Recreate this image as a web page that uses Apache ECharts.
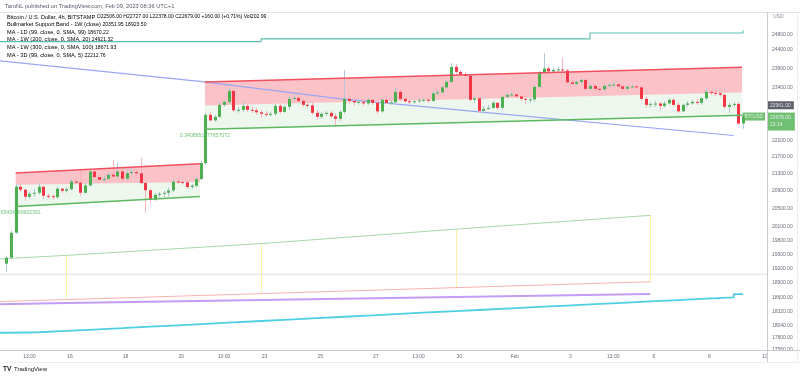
<!DOCTYPE html>
<html><head><meta charset="utf-8">
<script src="https://cdn.jsdelivr.net/npm/echarts@6/dist/echarts.min.js"></script>
<style>html,body{margin:0;padding:0;background:#fff}#c{width:800px;height:378px}</style>
</head><body><div id="c"></div>
<script>
// ---------- DATA ----------
// time unit: hours after 2023-01-16 00:00 (UTC+1); 4h candles
const candleStartHour = -55;   // 2023-01-13 17:00
const candleStepHours = 4;
const opens  = [19303,19430,19968,21000,20931,20771,20840,20862,21000,20794,20783,20760,20954,20908,20943,21121,21095,20862,21030,21354,21224,21161,21184,21277,21237,21354,21184,21316,21340,21312,21086,20920,20703,20817,20840,20862,20915,21121,21107,21100,20993,21023,21177,21552,
22722,22585,22672,22971,23047,23326,22834,22846,22946,22846,22834,22784,22747,22722,22747,22946,22796,22921,23123,23148,23072,22971,22958,22771,22672,22747,22771,22685,22623,22796,23123,23072,23035,23047,23009,23098,23022,22808,23098,23022,23035,23301,23123,23060,23035,23060,23085,23098,23072,23263,23288,23416,23557,23947,23816,23751,23712,23098,23136,22821,22871,22896,23022,22896,23174,23224,23237,23186,23123,23098,23110,23429,23790,23907,23829,23868,23881,23855,23545,23506,23557,23609,23378,23454,23378,23365,23454,23480,23493,23442,23378,23429,23442,23416,23123,22971,22996,23005,22946,23009,23098,22971,22808,22971,23009,23047,23022,23136,23301,23275,23263,23224,22921,22971,22996,22506];
const highs  = [19473,20011,21070,21070,20954,20885,20954,21092,21023,20840,20817,21000,20977,21000,21184,21207,21371,21092,21417,21394,21300,21254,21347,21630,21560,21417,21394,21417,21394,21677,21100,20954,20862,20885,20908,20977,21184,21184,21161,21161,21070,21230,21607,22771,
22796,22722,23022,23098,23403,23378,22921,23047,22996,22946,22896,22846,22821,22796,22996,22996,22971,23199,23250,23224,23123,23047,23022,22846,22796,22821,22821,22747,22846,23868,23275,23148,23123,23098,23148,23148,23072,23123,23174,23098,23378,23352,23174,23123,23098,23148,23148,23148,23326,23352,23480,23609,24052,24025,23868,23816,23764,23199,23174,22946,22971,23072,23047,23224,23275,23301,23275,23224,23174,23148,23480,23842,24316,23973,23920,23947,24184,23894,23609,23609,23661,23661,23506,23506,23454,23506,23532,23557,23532,23480,23480,23506,23480,23454,23174,23047,23072,23047,23072,23148,23148,23022,22996,23072,23098,23123,23174,23378,23352,23326,23301,23250,23022,23047,23047,22727];
const lows   = [19135,19388,19946,20885,20680,20726,20771,20817,20726,20726,20703,20726,20862,20862,20908,21070,20794,20840,21000,21184,21092,21114,21161,21207,21207,21114,21138,21254,21254,21046,20410,20635,20680,20749,20771,20771,20885,21070,21046,20954,20954,20977,21161,21512,
22548,22548,22647,22921,22996,22796,22771,22796,22796,22771,22722,22647,22672,22672,22697,22747,22771,22846,23072,23022,22921,22896,22722,22598,22623,22697,22647,22425,22573,22747,22996,22946,22971,22946,22971,22971,22747,22771,22996,22971,22996,23072,23022,22996,22996,23022,23047,23022,23047,23224,23250,23378,23532,23764,23712,23661,23072,23022,22771,22747,22846,22871,22846,22846,23148,23174,23148,23072,22996,23022,23047,23403,23738,23790,23790,23816,23816,23506,23454,23454,23506,23326,23326,23301,23301,23326,23403,23429,23403,23301,23326,23378,23378,23072,22896,22896,22921,22846,22896,22971,22921,22771,22796,22921,22971,22971,22971,23098,23224,23199,23174,22871,22771,22921,22474,22378];
const closes = [19430,19968,21000,20931,20771,20840,20862,21000,20794,20783,20760,20954,20908,20943,21121,21095,20862,21030,21354,21224,21161,21184,21277,21237,21354,21184,21316,21340,21312,21086,20920,20703,20817,20840,20862,20915,21121,21107,21100,20993,21023,21177,21552,22722,
22585,22672,22971,23047,23326,22834,22846,22946,22846,22834,22784,22747,22722,22747,22946,22796,22921,23123,23148,23072,22971,22958,22771,22672,22747,22771,22685,22623,22796,23123,23072,23035,23047,23009,23098,23022,22808,23098,23022,23035,23301,23123,23060,23035,23060,23085,23098,23072,23263,23288,23416,23557,23947,23816,23751,23712,23098,23136,22821,22871,22896,23022,22896,23174,23224,23237,23186,23123,23098,23110,23429,23790,23907,23829,23868,23881,23855,23545,23506,23557,23609,23378,23454,23378,23365,23454,23480,23493,23442,23378,23429,23442,23416,23123,22971,22996,23005,22946,23009,23098,22971,22808,22971,23009,23047,23022,23136,23301,23275,23263,23224,22921,22971,22996,22506,22679];

// x axis ticks
const xTickHours  = [-35, 0, 48, 96, 133, 168, 216, 264, 301, 336, 384, 432, 469, 504, 552, 600];
const xTickLabels = ['13:00','16','18','20','13:00','23','25','27','13:00','30','Feb','3','13:00','6','8','10'];
// y axis ticks
const yTickValues = [24800,24400,23900,23400,22100,21700,21300,20900,20500,20100,19800,19500,19200,18900,18600,18320,18040,17800,17560];

// weekly indicator points (last 4h bar of each week)
const weeklyHours = [-171, -3, 165, 333, 501];
const band20wSma  = [19257, 19479, 19731, 20046, 20352];
const band21wEma  = [18446, 18557, 18679, 18802, 18923.5];
const ma300w      = [18416, 18486, 18547, 18608, 18672];

// 200W MA (stepped)
const ma200wHours  = [-61, 165, 449, 573, 581];
const ma200wValues = [24619, 24692, 24854, 24854, 24921];

// daily MA (stepped), points at the last 4h bar of each day
const ma1dHours  = [-75,-51,-27,-3,21,45,69,93,117,141,165,189,213,237,261,285,309,333,357,381,405,429,453,477,501,525,549,573,581];
const ma1dValues = [17895,17905,17930,17958,17985,18015,18042,18070,18098,18127,18155,18184,18212,18240,18270,18298,18326,18352,18380,18408,18436,18464,18492,18520,18548,18575,18602,18670,18670];

// 3D MA
const ma3dHours  = [-61, 112, 236, 319, 351, 573];
const ma3dValues = [24105, 23570, 23116, 22888, 22804, 22213];

// horizontal line
const hLinePrice = 19080;

// regression trend drawings [startHour, endHour], upper / base / lower price at start & end
const reg1 = {t: [-46.9, 112.2], upper: [21317, 21535], base: [21046, 21108], lower: [20552, 20778], r: '0.5455454669602391'};
const reg2 = {t: [116.5, 580.2], upper: [23557, 23940], base: [22954, 23283], lower: [22364, 22710], r: '0.3408651177657072'};

// price scale labels
const lastPrice = 22679.00;
const markPrice = 22961.00;
const countdown = '23:14';

// ---------- CHART ----------
const X_MIN = -60.4, X_MAX = 601.75, Y_MIN = 17560, Y_MAX = 25432;
const FONT = 'Liberation Sans, Arial, sans-serif';
const UP = '#4caf50', DN = '#f23645', WICK_UP = '#b4c7d6', WICK_DN = '#f7b3b9';

const candleData = opens.map((o, i) => [candleStartHour + candleStepHours * i, o, closes[i], lows[i], highs[i]]);

function renderCandle(params, api) {
  const t = api.value(0), o = api.value(1), c = api.value(2), l = api.value(3), h = api.value(4);
  const pO = api.coord([t, o]), pC = api.coord([t, c]), pH = api.coord([t, h]), pL = api.coord([t, l]);
  const up = c >= o;
  const cx = Math.round(pO[0]);
  const top = Math.min(pO[1], pC[1]), bot = Math.max(pO[1], pC[1]);
  return {type: 'group', children: [
    {type: 'line', shape: {x1: cx + 0.5, y1: pH[1], x2: cx + 0.5, y2: pL[1]}, style: {stroke: up ? WICK_UP : WICK_DN, lineWidth: 1}},
    {type: 'rect', shape: {x: cx - 1, y: top, width: 3, height: Math.max(1, bot - top)}, style: {fill: up ? UP : DN}}
  ]};
}

function regFill(reg) {
  return function (params, api) {
    const ut0 = api.coord([reg.t[0], reg.upper[0]]), ut1 = api.coord([reg.t[1], reg.upper[1]]);
    const b0 = api.coord([reg.t[0], reg.base[0]]), b1 = api.coord([reg.t[1], reg.base[1]]);
    const l0 = api.coord([reg.t[0], reg.lower[0]]), l1 = api.coord([reg.t[1], reg.lower[1]]);
    return {type: 'group', children: [
      {type: 'polygon', shape: {points: [ut0, ut1, b1, b0]}, style: {fill: 'rgba(242,54,69,0.30)'}},
      {type: 'polygon', shape: {points: [b0, b1, l1, l0]}, style: {fill: 'rgba(76,175,80,0.10)'}}
    ]};
  };
}

function lineSeries(data, color, width, z, extra) {
  return Object.assign({type: 'line', data: data, symbol: 'none', silent: true, z: z,
    lineStyle: {color: color, width: width}, animation: false}, extra || {});
}
const zip = (a, b) => a.map((v, i) => [v, b[i]]);

const series = [];
series.push(lineSeries([[X_MIN, hLinePrice], [X_MAX, hLinePrice]], '#ececec', 2, 1));
[reg1, reg2].forEach(reg => {
  series.push({type: 'custom', data: [[reg.t[0], reg.upper[0]]], renderItem: regFill(reg), z: 2, silent: true});
});
series.push(lineSeries(zip(ma200wHours, ma200wValues), '#5fbfae', 1.2, 3, {step: 'end'}));
series.push(lineSeries(zip(ma3dHours, ma3dValues), '#9aa6f5', 1.2, 3));
series.push(lineSeries(zip(weeklyHours, band20wSma), '#a8d8aa', 1, 3));
series.push(lineSeries(zip(weeklyHours, band21wEma), '#f8b0b0', 1, 3));
series.push(lineSeries(zip(weeklyHours, ma300w), '#c29cf6', 2, 3));
series.push(lineSeries(zip(ma1dHours, ma1dValues), '#4fcfe0', 1.8, 3, {step: 'end'}));
series.push({type: 'custom', silent: true, z: 3,
  data: weeklyHours.map((t, i) => [t, band20wSma[i], band21wEma[i]]),
  renderItem: function (params, api) {
    const a = api.coord([api.value(0), api.value(1)]), b = api.coord([api.value(0), api.value(2)]);
    const x = Math.round(a[0]) + 0.5;
    return {type: 'line', shape: {x1: x, y1: a[1], x2: x, y2: b[1]}, style: {stroke: '#fbf0a8', lineWidth: 1}};
  }});
series.push({type: 'custom', data: candleData, renderItem: renderCandle, z: 5, silent: true,
  encode: {x: 0, y: [1, 2, 3, 4]}});
[reg1, reg2].forEach(reg => {
  series.push(lineSeries([[reg.t[0], reg.upper[0]], [reg.t[1], reg.upper[1]]], '#f0505f', 1.5, 6));
  series.push(lineSeries([[reg.t[0], reg.lower[0]], [reg.t[1], reg.lower[1]]], '#5cb85f', 1.5, 6));
  series.push({type: 'scatter', data: [[reg.t[0], reg.lower[0]]], symbolSize: 0, silent: true, z: 4,
    label: {show: true, position: 'bottom', distance: 4, formatter: reg.r,
      color: '#4caf50', fontSize: 5.2, fontFamily: FONT}});
});
// price scale labels
series.push({type: 'scatter', data: [[X_MAX, markPrice]], symbolSize: 0, silent: true, z: 10,
  label: {show: true, position: 'right', distance: 0, formatter: markPrice.toFixed(2), color: '#fff',
    backgroundColor: '#363a45', padding: [2, 3, 1, 3], fontSize: 5, fontFamily: FONT}});
series.push({type: 'scatter', data: [[X_MAX, lastPrice]], symbolSize: 0, silent: true, z: 10,
  label: {show: true, position: 'right', distance: 0, formatter: lastPrice.toFixed(2) + '\n' + countdown, color: '#fff',
    backgroundColor: '#4caf50', padding: [2, 4, 2, 3], fontSize: 5, lineHeight: 7, align: 'left', verticalAlign: 'top', offset: [0, -4], fontFamily: FONT}});
series.push({type: 'scatter', data: [[X_MAX, lastPrice]], symbolSize: 0, silent: true, z: 10,
  label: {show: true, position: 'left', distance: 2, formatter: 'BTCUSD', color: '#fff',
    backgroundColor: '#4caf50', padding: [2, 2, 1, 2], fontSize: 4.5, fontFamily: FONT}});

const GF = 5.6, VF = 5.1;
const legendLines = [
  {y: 17.5, rich: '{g|Bitcoin / U.S. Dollar, 4h, BITSTAMP }{u|O22506.00 H22727.00 L22378.00 C22679.00 +160.00 (+0.71%) Vol202.99}'},
  {y: 25.2, rich: '{g|Bullmarket Support Band - 1W (close) }{u|20351.95}{g| }{d|18923.50}'},
  {y: 32.8, rich: '{g|MA - 1D (99, close, 0, SMA, 99) }{c|18670.22}'},
  {y: 40.4, rich: '{g|MA - 1W (200, close, 0, SMA, 20) }{t|24921.32}'},
  {y: 48.0, rich: '{g|MA - 1W (300, close, 0, SMA, 100) }{p|18671.93}'},
  {y: 55.6, rich: '{g|MA - 3D (99, close, 0, SMA, 5) }{b|22212.76}'}
];
const richStyles = {
  g: {color: '#555a66', fontSize: GF, fontFamily: FONT},
  u: {color: '#43a047', fontSize: VF, fontFamily: FONT},
  d: {color: '#f23645', fontSize: VF, fontFamily: FONT},
  c: {color: '#00bcd4', fontSize: VF, fontFamily: FONT},
  t: {color: '#26a69a', fontSize: VF, fontFamily: FONT},
  p: {color: '#8e5ce6', fontSize: VF, fontFamily: FONT},
  b: {color: '#2962ff', fontSize: VF, fontFamily: FONT}
};
const graphics = [
  {type: 'text', left: 5, top: 3, z: 20, style: {text: 'TaroNL published on TradingView.com, Feb 09, 2023 08:36 UTC+1', fill: '#555a66', fontSize: 5.7, fontFamily: FONT}},
  {type: 'line', z: 20, shape: {x1: 0, y1: 12.5, x2: 800, y2: 12.5}, style: {stroke: '#e0e3eb', lineWidth: 1}},
  {type: 'line', z: 20, shape: {x1: 767.5, y1: 12, x2: 767.5, y2: 362}, style: {stroke: '#c8cbd2', lineWidth: 1}},
  {type: 'line', z: 20, shape: {x1: 0, y1: 350.5, x2: 800, y2: 350.5}, style: {stroke: '#c8cbd2', lineWidth: 1}},
  {type: 'line', z: 20, shape: {x1: 0, y1: 362.5, x2: 800, y2: 362.5}, style: {stroke: '#eceef2', lineWidth: 1}},
  {type: 'line', z: 20, shape: {x1: 797.5, y1: 12, x2: 797.5, y2: 362}, style: {stroke: '#eceef2', lineWidth: 1}},
  {type: 'text', left: 773, top: 14, z: 20, style: {text: 'USD', fill: '#8a8d96', fontSize: 5, fontFamily: FONT}},
  {type: 'text', left: 3, top: 366, z: 20, style: {text: 'TV', fill: '#131722', fontSize: 6.5, fontWeight: 'bold', fontFamily: FONT}},
  {type: 'text', left: 14, top: 366.5, z: 20, style: {text: 'TradingView', fill: '#131722', fontSize: 6, fontFamily: FONT}}
];
legendLines.forEach(l => graphics.push({type: 'text', left: 7, top: l.y - 3.5, z: 20,
  style: {text: l.rich, rich: richStyles, fontSize: GF, fontFamily: FONT}}));

const chart = echarts.init(document.getElementById('c'), null, {renderer: 'canvas', width: 800, height: 378});
chart.setOption({
  animation: false,
  backgroundColor: '#ffffff',
  grid: {left: 0, top: 12, width: 767, height: 338, containLabel: false},
  xAxis: {type: 'value', min: X_MIN, max: X_MAX, axisLine: {show: false}, axisTick: {show: false}, splitLine: {show: false},
    axisLabel: {customValues: xTickHours, margin: 4, color: '#6a6d78', fontSize: 5, fontFamily: FONT,
      formatter: v => { const i = xTickHours.findIndex(h => Math.abs(h - v) < 1e-6); return i >= 0 ? xTickLabels[i] : ''; }}},
  yAxis: {type: 'log', position: 'right', min: Y_MIN, max: Y_MAX, axisLine: {show: false}, axisTick: {show: false}, splitLine: {show: false},
    axisLabel: {customValues: yTickValues, margin: 5, color: '#6a6d78', fontSize: 5, fontFamily: FONT,
      formatter: v => Number(v).toFixed(2)}},
  graphic: graphics,
  series: series
});
</script></body></html>
